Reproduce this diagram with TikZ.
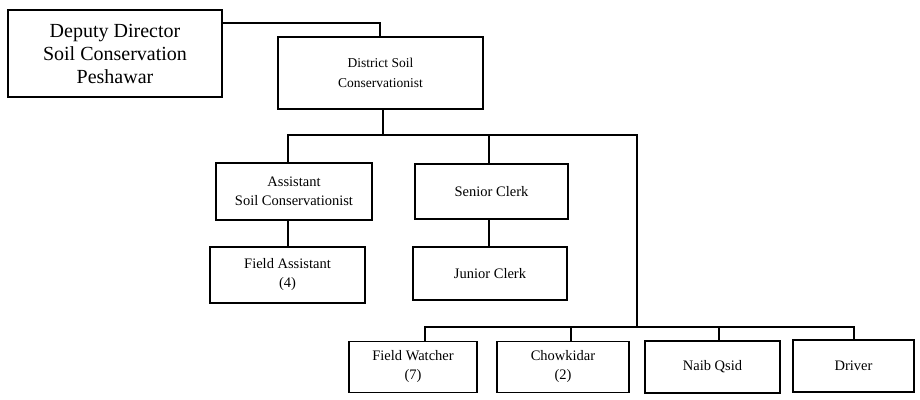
\documentclass[tikz,border=0pt]{standalone}
\usepackage{fontspec}
\setmainfont{Liberation Serif}
\begin{document}
\begin{tikzpicture}[x=1pt,y=-1pt,
  box/.style={draw, line width=1.7pt, inner sep=0pt, align=center,
    font=\fontsize{14.5}{19}\selectfont},
  headbox/.style={box, line width=2.8pt},
  link/.style={line width=1.6pt}]
% page frame
\fill[white] (0,0) rectangle (920,399);
\useasboundingbox (0,0) rectangle (920,399);

% top level
\node[headbox, minimum width=214, minimum height=87,
  font=\fontsize{20}{23}\selectfont] (dd) at (115,53.5)
  {Deputy Director\\Soil Conservation\\Peshawar};
\node[headbox, minimum width=205, minimum height=72,
  font=\fontsize{13.5}{20}\selectfont] (dsc) at (380.5,73)
  {District Soil\\Conservationist};

% second level
\node[box, minimum width=156, minimum height=57] (asc) at (294,191.5)
  {Assistant\\Soil Conservationist};
\node[box, minimum width=155, minimum height=56] (fa) at (287.5,275)
  {Field Assistant\\(4)};
\node[box, minimum width=153, minimum height=55] (sc) at (491.5,191.5)
  {Senior Clerk};
\node[box, minimum width=154, minimum height=53] (jc) at (490,273.5)
  {Junior Clerk};

% bottom row
\node[box, minimum width=128, minimum height=51] (fw) at (413,367)
  {Field Watcher\\(7)};
\node[box, minimum width=132, minimum height=51] (ch) at (563,367)
  {Chowkidar\\(2)};
\node[box, minimum width=135, minimum height=52] (nq) at (712.5,367)
  {Naib Qsid};
\node[box, minimum width=121, minimum height=52] (dr) at (853.5,366)
  {Driver};

% junction points of the connector lines
\coordinate (j0) at (380,23);
\coordinate (b1) at (383,135);
\coordinate (tA) at (288,135);
\coordinate (tS) at (489,135);
\coordinate (tR) at (637,135);
\coordinate (b2) at (637,327);
\coordinate (tFW) at (425,327);
\coordinate (tCH) at (571,327);
\coordinate (tNQ) at (719,327);
\coordinate (tDR) at (854,327);

% connectors
\draw[link] (dd.east |- j0) -- (j0) -- (j0 |- dsc.north);
\draw[link] (b1 |- dsc.south) -- (b1);
\draw[link] (tA |- asc.north) -- (tA) -- (tR) -- (b2);
\draw[link] (tS) -- (tS |- sc.north);
\draw[link] (tA |- asc.south) -- (tA |- fa.north);
\draw[link] (tS |- sc.south) -- (tS |- jc.north);
\draw[link] (tFW |- fw.north) -- (tFW) -- (tDR) -- (tDR |- dr.north);
\draw[link] (tCH) -- (tCH |- ch.north);
\draw[link] (tNQ) -- (tNQ |- nq.north);
\end{tikzpicture}
\end{document}
